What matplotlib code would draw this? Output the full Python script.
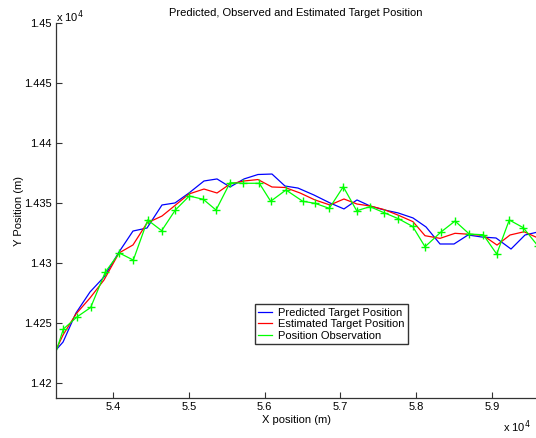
import matplotlib
matplotlib.use("Agg")
import matplotlib.pyplot as plt
from matplotlib.lines import Line2D
from matplotlib.ticker import MultipleLocator, FuncFormatter

plt.rcParams['font.family'] = ['Liberation Sans', 'DejaVu Sans']
plt.rcParams['font.size'] = 8

# Observed target position (m)
obs_x = [53243, 53340, 53524, 53701, 53894, 54079, 54264, 54454, 54639, 54819,
         55004, 55189, 55357, 55542, 55717, 55929, 56079, 56281, 56502, 56664,
         56853, 57038, 57215, 57391, 57576, 57765, 57955, 58118, 58329, 58514,
         58703, 58888, 59065, 59231, 59416, 59610]
obs_y = [14226.3, 14245.2, 14255.5, 14263.2, 14292.7, 14308.6, 14302.7, 14336.1,
         14327.2, 14344.4, 14356.1, 14353.3, 14344.4, 14367.2, 14366.7, 14366.7,
         14351.7, 14361.1, 14351.7, 14350.0, 14345.8, 14363.8, 14343.8, 14347.2,
         14342.2, 14337.2, 14330.7, 14313.8, 14326.1, 14335.2, 14324.4, 14323.8,
         14307.7, 14336.1, 14329.7, 14314.4]

# Predicted target position (m)
pred_x = [53243, 53336, 53507, 53692, 53877, 54075, 54260, 54445, 54643, 54815,
          55000, 55198, 55370, 55542, 55727, 55911, 56096, 56268, 56440, 56651,
          56862, 57047, 57219, 57391, 57576, 57761, 57959, 58131, 58316, 58501,
          58686, 58871, 59056, 59254, 59439, 59610]
pred_y = [14227.8, 14234.4, 14258.6, 14276.1, 14288.6, 14309.4, 14326.9, 14329.4,
          14348.6, 14350.3, 14358.6, 14368.6, 14370.3, 14363.6, 14370.3, 14374.0,
          14374.4, 14364.4, 14362.7, 14356.9, 14350.3, 14345.3, 14352.8, 14347.8,
          14344.5, 14342.0, 14337.8, 14330.3, 14316.1, 14316.1, 14323.6, 14321.9,
          14321.1, 14311.9, 14323.6, 14326.1]

# Estimated target position (m)
est_x = [53243, 53336, 53507, 53692, 53877, 54075, 54260, 54445, 54643, 54815,
         55000, 55198, 55370, 55542, 55727, 55911, 56096, 56268, 56467, 56664,
         56862, 57047, 57219, 57391, 57576, 57761, 57959, 58118, 58316, 58514,
         58699, 58884, 59069, 59241, 59426, 59610]
est_y = [14227.8, 14240.3, 14257.8, 14271.1, 14286.1, 14308.6, 14315.3, 14333.6,
         14339.4, 14348.2, 14357.8, 14361.9, 14358.6, 14366.1, 14368.6, 14369.8,
         14363.6, 14363.2, 14358.6, 14352.8, 14348.6, 14353.6, 14349.4, 14347.8,
         14344.8, 14340.2, 14334.7, 14323.0, 14320.8, 14325.0, 14324.2, 14323.3,
         14315.2, 14323.6, 14326.3, 14321.1]

X_LIM = (53243, 59584)
Y_LIM = (14187.5, 14500)

fig = plt.figure(figsize=(5.36, 4.38), dpi=100)
ax = fig.add_axes([0.1045, 0.0906, 0.8955, 0.8562])

lw = 0.9
ax.plot(pred_x, pred_y, color='#0000ff', linewidth=lw)
ax.plot(est_x, est_y, color='#ff0000', linewidth=lw)
ax.plot(obs_x, obs_y, color='#00ff00', linewidth=lw,
        marker='+', markersize=6, markeredgewidth=1.0, markevery=slice(1, None))

ax.set_xlim(*X_LIM)
ax.set_ylim(*Y_LIM)

ax.xaxis.set_major_locator(MultipleLocator(1000))
ax.yaxis.set_major_locator(MultipleLocator(50))
sci = FuncFormatter(lambda v, pos: f'{v / 1e4:g}')
ax.xaxis.set_major_formatter(sci)
ax.yaxis.set_major_formatter(sci)

for side in ('top', 'right'):
    ax.spines[side].set_visible(False)
for side in ('left', 'bottom'):
    ax.spines[side].set_linewidth(0.9)
    ax.spines[side].set_color('#333333')
ax.tick_params(direction='in', length=4, width=0.8, labelsize=8, pad=3,
               color='#333333')

ax.set_title('Predicted, Observed and Estimated Target Position', fontsize=8, pad=5)
ax.set_xlabel('X position (m)', fontsize=8, labelpad=2)
ax.set_ylabel('Y Position (m)', fontsize=8, labelpad=0)

# exponent labels, as MATLAB shows them
fig.text(0.1045, 0.962, r'x 10$^{4}$', fontsize=8, ha='left', va='center')
fig.text(0.99, 0.026, r'x 10$^{4}$', fontsize=8, ha='right', va='center')

handles = [Line2D([], [], color='#0000ff', linewidth=lw),
           Line2D([], [], color='#ff0000', linewidth=lw),
           Line2D([], [], color='#00ff00', linewidth=lw)]
labels = ['Predicted Target Position', 'Estimated Target Position',
          'Position Observation']
leg = ax.legend(handles, labels, loc='upper left', bbox_to_anchor=(0.4146, 0.2507),
                fontsize=8, frameon=True, fancybox=False, handlelength=1.2,
                handletextpad=0.6, borderpad=0.3, labelspacing=0.15,
                borderaxespad=0)
leg.get_frame().set_edgecolor('black')
leg.get_frame().set_linewidth(1.0)

fig.savefig('out.png', dpi=100)
